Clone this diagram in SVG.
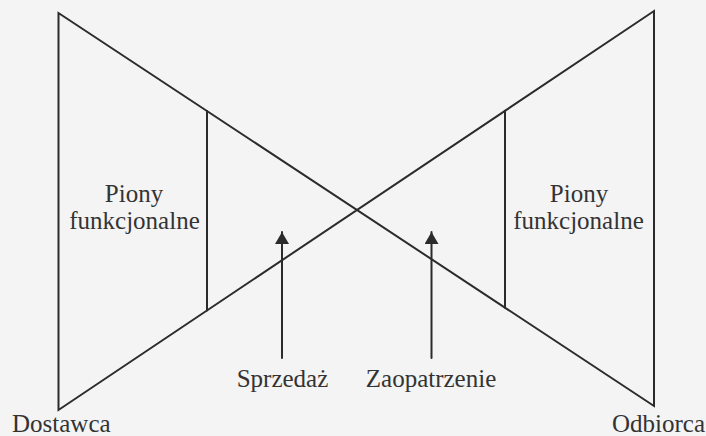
<svg xmlns="http://www.w3.org/2000/svg" width="706" height="436" viewBox="0 0 706 436">
  <defs>
    <style>
      .ln { stroke: #2b2b2b; stroke-width: 2; fill: none; stroke-linecap: round; stroke-linejoin: miter; }
      .tx { font-family: 'Liberation Serif', 'DejaVu Serif', serif; font-size: 25px; fill: #333333; }
      .mid { text-anchor: middle; }
    </style>
    <marker id="arr" viewBox="0 0 12 14" refX="12" refY="7" markerWidth="12" markerHeight="14" markerUnits="userSpaceOnUse" orient="auto">
      <path d="M0,0 L12,7 L0,14 Z" fill="#2b2b2b"/>
    </marker>
  </defs>
  <rect x="0" y="0" width="706" height="436" fill="#f4f4f4"/>

  <g id="frame">
    <path class="ln" d="M58.5,13 L58.5,410 L654,11 L654,406 Z"/>
  </g>

  <g font-family="Liberation Serif, DejaVu Serif, serif">
    <g id="pion-left">
      <line class="ln" x1="207" y1="111" x2="207" y2="310.5"/>
      <text class="tx mid" x="134" y="202">Piony</text>
      <text class="tx mid" x="134.5" y="229">funkcjonalne</text>
    </g>

    <g id="pion-right">
      <line class="ln" x1="505" y1="110.8" x2="505" y2="307.7"/>
      <text class="tx mid" x="579" y="202">Piony</text>
      <text class="tx mid" x="578.5" y="229">funkcjonalne</text>
    </g>

    <g id="dostawca">
      <text class="tx" x="12" y="432">Dostawca</text>
    </g>

    <g id="odbiorca">
      <text class="tx" x="612" y="432">Odbiorca</text>
    </g>

    <g id="sprzedaz">
      <text class="tx mid" x="282.5" y="387">Sprzedaż</text>
    </g>

    <g id="zaopatrzenie">
      <text class="tx mid" x="431" y="387">Zaopatrzenie</text>
    </g>
  </g>

  <g id="connectors">
    <line class="ln" x1="282" y1="358" x2="282" y2="232" marker-end="url(#arr)"/>
    <line class="ln" x1="431.5" y1="358" x2="431.5" y2="232" marker-end="url(#arr)"/>
  </g>
</svg>
